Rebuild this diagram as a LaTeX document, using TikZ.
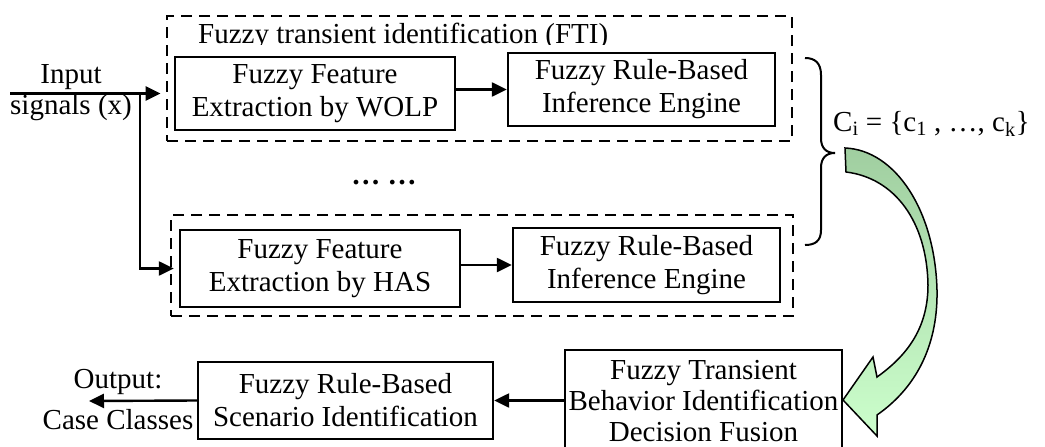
\documentclass[tikz,border=0pt]{standalone}
\usepackage{fontspec}
\setmainfont{Liberation Serif}
\usetikzlibrary{arrows.meta,calc}
\definecolor{gA}{RGB}{160,206,160}
\definecolor{gB}{RGB}{204,255,204}
\begin{document}
\begin{tikzpicture}[x=1pt,y=-1pt,
  every node/.style={font=\fontsize{29}{33}\selectfont, inner sep=0pt},
  box/.style={draw, line width=2.4pt, align=center},
  dbox/.style={draw, line width=2.8pt, dash pattern=on 11pt off 7pt},
  arr/.style={-{Triangle[length=15pt,width=14pt]}, line width=2.4pt},
  bracestyle/.style={line width=2pt}]
\useasboundingbox (0,0) rectangle (1045,447);
% dashed containers
\node[dbox, minimum width=625pt, minimum height=125pt] (fti) at (479.5,78.5) {};
\node[dbox, minimum width=622pt, minimum height=101pt] (fti2) at (482,265.5) {};
\begin{scope}
\clip (180,0) rectangle (640,44.5);
\node[anchor=base west] (title) at (198,43) {Fuzzy transient identification (FTI)};
\end{scope}
% boxes
\node[box, minimum width=280pt, minimum height=73pt] (wolp) at (315,93.5) {Fuzzy Feature\\Extraction by WOLP};
\node[box, minimum width=267pt, minimum height=73pt] (inf1) at (641.5,89.5) {Fuzzy Rule-Based\\Inference Engine};
\node[box, minimum width=280pt, minimum height=77pt] (has) at (320,268.5) {Fuzzy Feature\\Extraction by HAS};
\node[box, minimum width=267pt, minimum height=74pt] (inf2) at (646.5,265) {Fuzzy Rule-Based\\Inference Engine};
\node[font=\bfseries\fontsize{29}{33}\selectfont] (dots) at (384,183) {… …};
% input
\node (lin) at (71,77) {Input};
\node (lsig) at (71,108) {signals (x)};
\coordinate (inA) at (10,93.5);
\coordinate (br) at (140,93.5);
\draw[arr, shorten >=5pt] (inA) -- (inA -| fti.west);
\draw[arr, shorten >=5pt] (br) |- (has.west);
\draw[arr] (wolp.east |- inf1.west) -- (inf1.west);
\draw[arr] (has.east |- inf2.west) -- (inf2.west);
% brace
\draw[bracestyle] (805,58) .. controls (815,58) and (821,63) .. (821,75) -- (821,138)
  .. controls (821,148) and (826,153) .. (835,153)
  .. controls (826,153) and (821,158) .. (821,168) -- (821,230)
  .. controls (821,241) and (815,245) .. (805,245);
\node[anchor=base west] (ci) at (833,131) {C\textsubscript{i} = \{c\textsubscript{1} , …, c\textsubscript{k}\}};
% green curved arrow
\shadedraw[top color=gA, middle color=gA!70!gB, bottom color=gB, draw=black, line width=1.5pt, line join=miter]
 (845,148) .. controls (895,150) and (935,210) .. (937,290)
 .. controls (938,340) and (920,385) .. (877,415)
 -- (877,436) -- (843,400) -- (873,357) -- (877,377)
 .. controls (905,357) and (928,330) .. (928,285)
 .. controls (927,222) and (895,178) .. (846,172) -- cycle;
% bottom row
\node[box, minimum width=295pt, minimum height=77pt] (scen) at (345.5,400.5) {Fuzzy Rule-Based\\Scenario Identification};
\node[box, minimum width=277pt, minimum height=111pt, anchor=north] (fus) at (703.5,349) {};
\node[align=center, font=\fontsize{29}{31}\selectfont] (fustxt) at (703.5,401) {Fuzzy Transient\\Behavior Identification\\Decision Fusion};
\draw[arr] (fus.west |- scen.east) -- (scen.east);
\coordinate (outp) at (89,401);
\draw[arr] (scen.west) -- (outp);
\node (o1) at (118,382) {Output:};
\node (o2) at (118,420) {Case Classes};
\end{tikzpicture}
\end{document}
